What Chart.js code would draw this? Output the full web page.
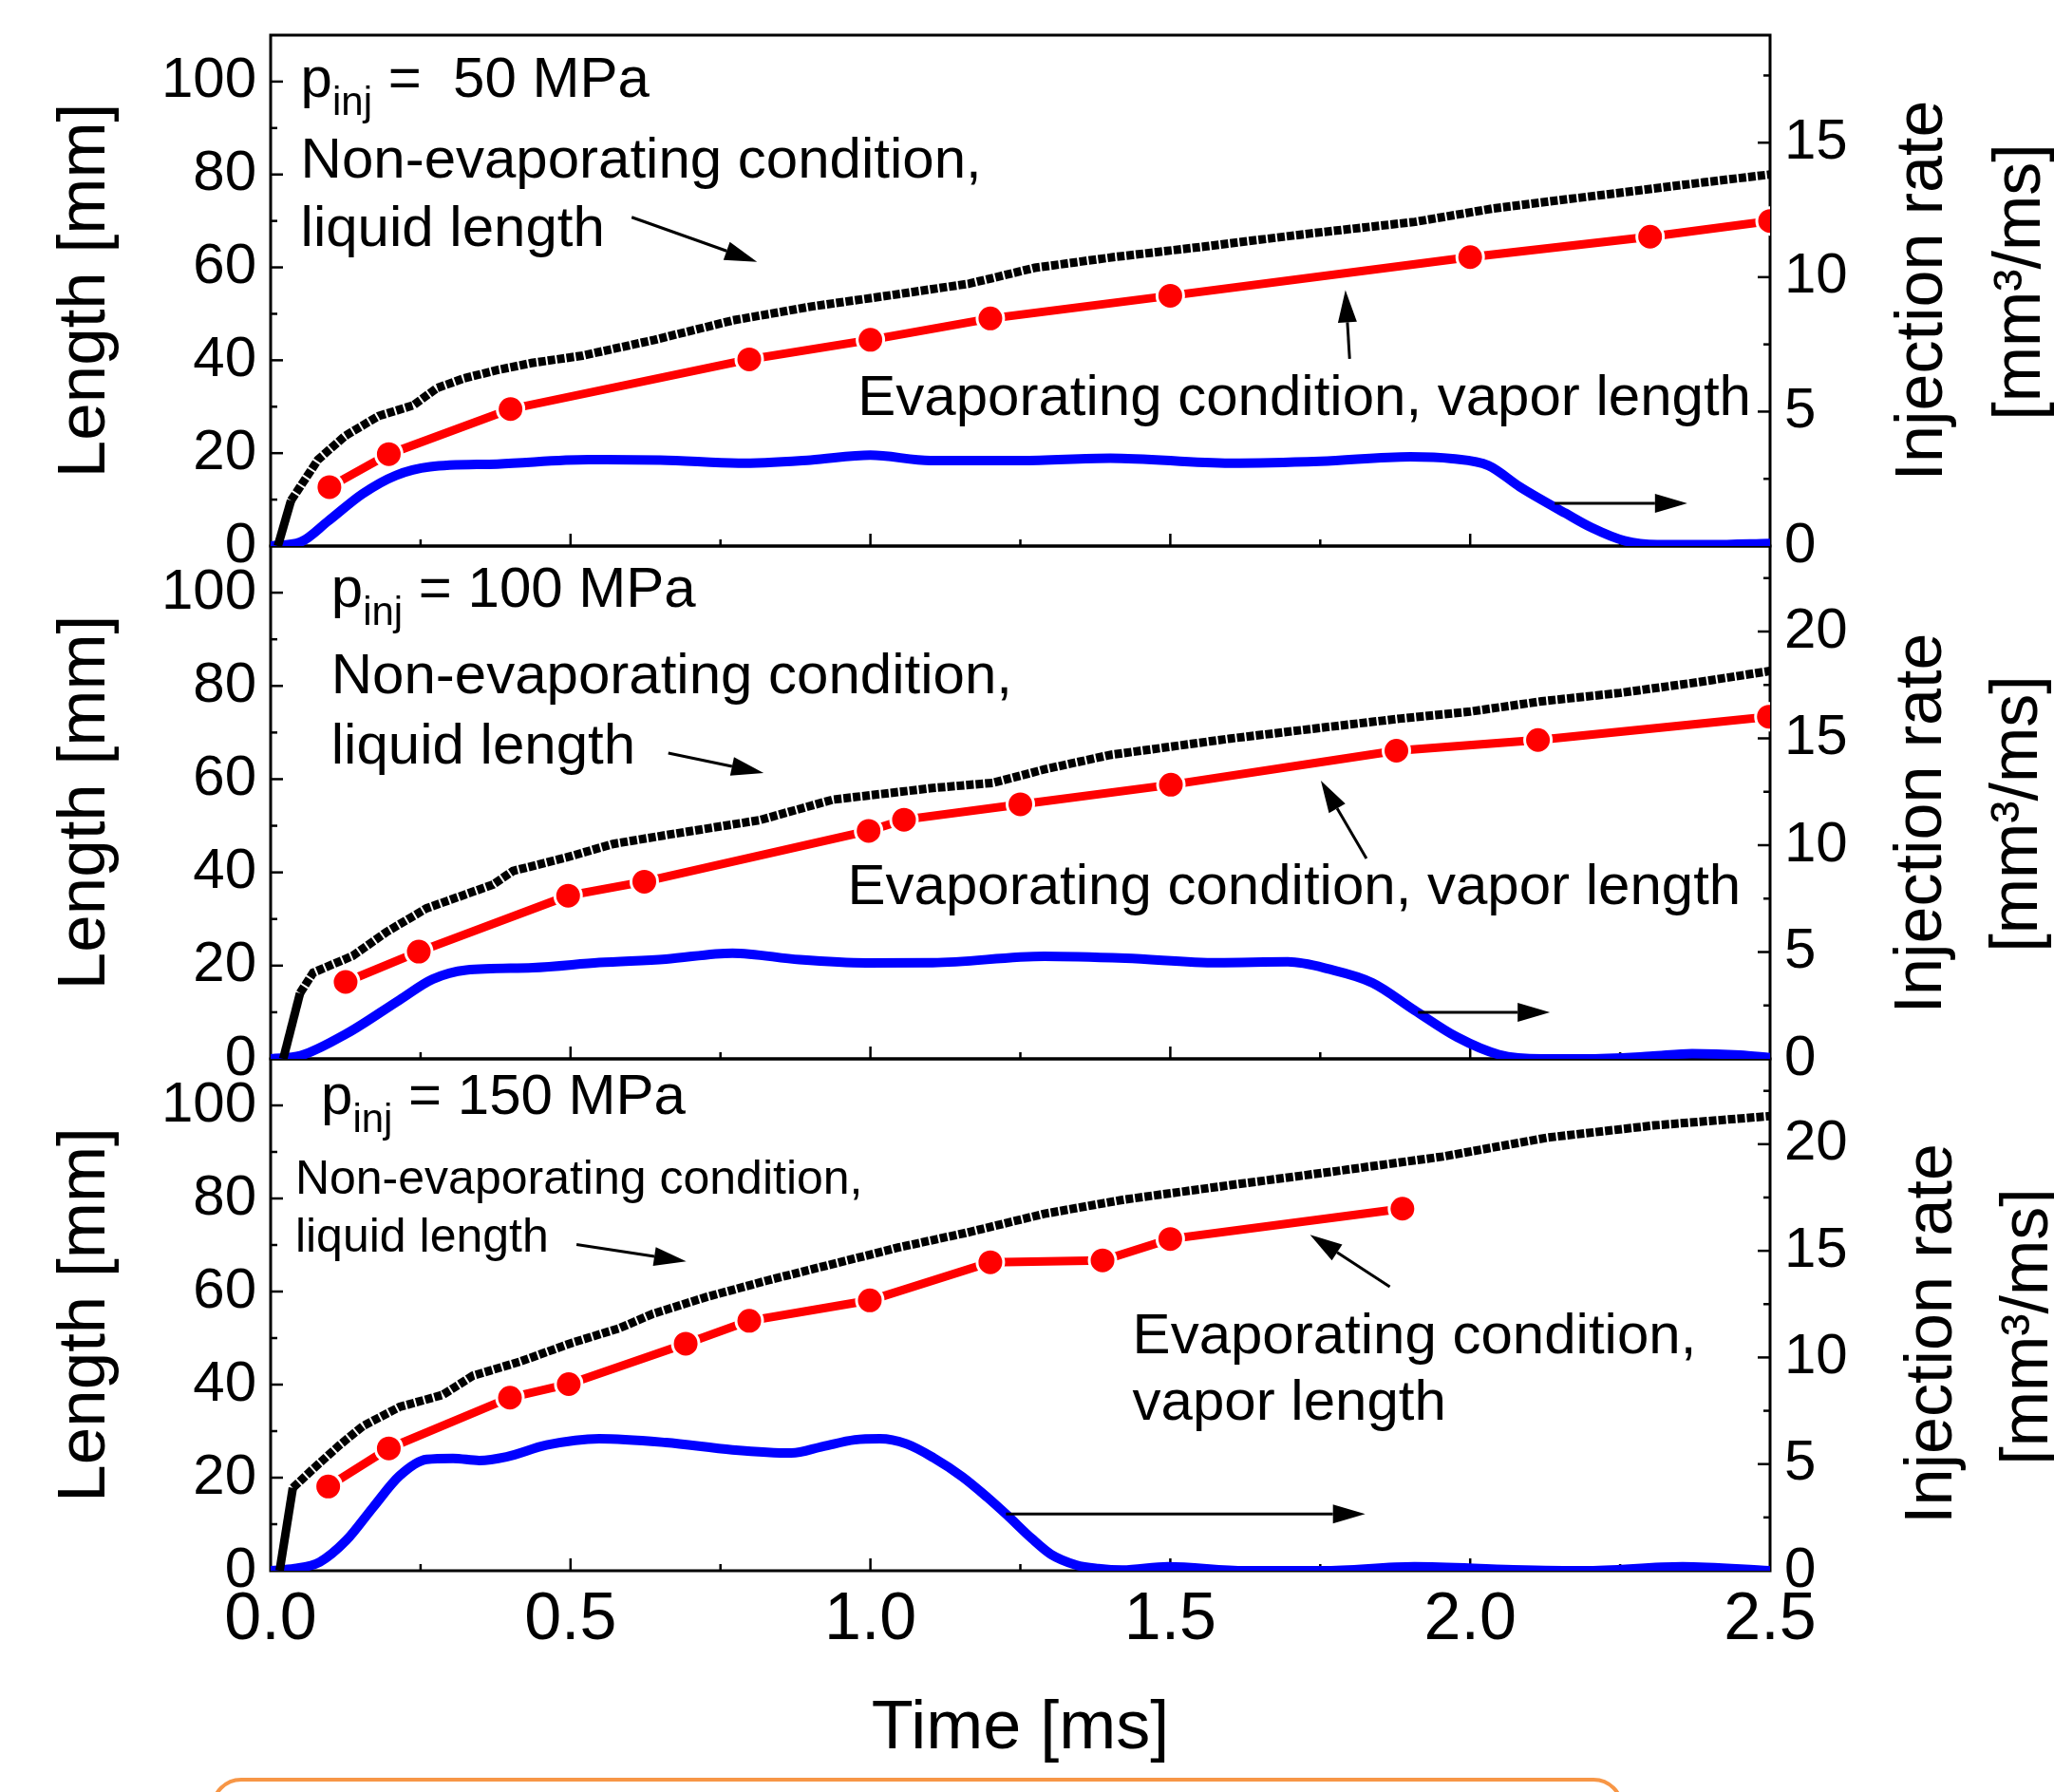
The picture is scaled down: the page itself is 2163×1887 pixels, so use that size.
<!DOCTYPE html>
<html>
<head>
<meta charset="utf-8">
<script src="https://cdn.jsdelivr.net/npm/chart.js@4.4.1/dist/chart.umd.min.js"></script>
<style>
  html, body { margin:0; padding:0; background:#fff; width:2163px; height:1887px; overflow:hidden; position:relative; }
  canvas { position:absolute; left:0; top:0; }
  #box { position:absolute; left:222px; top:1872px; width:1488px; height:140px; border:4px solid #f79646; border-radius:32px; box-sizing:border-box; }
</style>
</head>
<body>
<div id="box"></div>
<canvas id="p150" width="2163" height="1887"></canvas>
<canvas id="p100" width="2163" height="1887"></canvas>
<canvas id="p50" width="2163" height="1887"></canvas>
<script>
// ---------------- DATA ----------------
const timeTickLabels = ['0.0', '0.5', '1.0', '1.5', '2.0', '2.5'];

// p_inj = 50 MPa
const liq50Time = [0.012, 0.034, 0.079, 0.124, 0.18, 0.238, 0.277, 0.322, 0.378, 0.435, 0.52, 0.64, 0.771, 0.903, 1.034, 1.165, 1.274, 1.405, 1.558, 1.733, 1.908, 2.039, 2.214, 2.389, 2.5];
const liq50Len  = [0, 9.8, 18.6, 23.7, 28, 30.3, 34, 36.1, 37.9, 39.4, 41, 44.4, 48.6, 51.6, 54, 56.5, 59.9, 62.2, 64.5, 67.3, 69.8, 72.7, 75.5, 78.3, 80];
const vap50Time = [0.098, 0.197, 0.400, 0.798, 1.0, 1.2, 1.5, 2.0, 2.3, 2.5];
const vap50Len  = [12.7, 19.8, 29.5, 40.2, 44.4, 49.0, 53.9, 62.2, 66.6, 70.0];
const rate50Time = [0, 0.05, 0.096, 0.153, 0.209, 0.266, 0.378, 0.53, 0.65, 0.78, 0.9, 1.0, 1.1, 1.25, 1.4, 1.6, 1.75, 1.9, 1.97, 2.03, 2.083, 2.159, 2.203, 2.257, 2.312, 2.4, 2.5];
const rate50Rate = [0, 0.15, 0.93, 1.94, 2.63, 2.95, 3.05, 3.21, 3.2, 3.08, 3.2, 3.38, 3.18, 3.18, 3.27, 3.08, 3.15, 3.32, 3.25, 3.0, 2.2, 1.22, 0.68, 0.2, 0.05, 0.05, 0.1];

// p_inj = 100 MPa
const liq100Time = [0.021, 0.049, 0.071, 0.137, 0.193, 0.26, 0.371, 0.404, 0.493, 0.571, 0.659, 0.815, 0.937, 1.104, 1.204, 1.29, 1.4, 1.6, 1.75, 1.884, 2.0, 2.119, 2.25, 2.38, 2.5];
const liq100Len  = [0, 14.1, 18.5, 22.1, 27.2, 32.3, 37.4, 40.3, 43.2, 46.1, 48.0, 51.2, 55.6, 58.1, 59.2, 62.1, 65.2, 68.7, 71.0, 73.0, 74.5, 76.7, 78.5, 80.8, 83.2];
const vap100Time = [0.125, 0.247, 0.496, 0.623, 0.997, 1.056, 1.25, 1.501, 1.877, 2.113, 2.498];
const vap100Len  = [16.5, 23.0, 35.0, 38.0, 48.9, 51.3, 54.6, 58.8, 66.1, 68.4, 73.4];
const rate100Time = [0, 0.05, 0.126, 0.215, 0.27, 0.326, 0.437, 0.548, 0.659, 0.77, 0.882, 0.993, 1.104, 1.29, 1.425, 1.579, 1.696, 1.766, 1.837, 1.907, 1.978, 2.048, 2.12, 2.19, 2.3, 2.37, 2.45, 2.5];
const rate100Rate = [0, 0.15, 1.17, 2.76, 3.73, 4.16, 4.27, 4.51, 4.67, 4.95, 4.64, 4.49, 4.5, 4.8, 4.71, 4.5, 4.54, 4.19, 3.56, 2.28, 1.02, 0.2, 0.0, 0.0, 0.12, 0.25, 0.18, 0.05];

// p_inj = 150 MPa
const liq150Time = [0.015, 0.037, 0.071, 0.115, 0.154, 0.215, 0.287, 0.337, 0.415, 0.503, 0.581, 0.637, 0.726, 0.826, 0.937, 1.048, 1.159, 1.29, 1.425, 1.602, 1.778, 1.954, 2.13, 2.307, 2.5];
const liq150Len  = [0, 17.8, 21.9, 27.0, 31.1, 35.2, 37.8, 41.9, 44.9, 49.0, 52.1, 55.2, 58.8, 62.3, 65.9, 69.5, 72.6, 76.7, 79.8, 82.9, 85.9, 89.0, 93.1, 95.7, 97.7];
const vap150Time = [0.096, 0.197, 0.399, 0.497, 0.692, 0.798, 0.999, 1.2, 1.387, 1.5, 1.887];
const vap150Len  = [18.1, 26.3, 37.2, 40.1, 48.8, 53.7, 58.1, 66.3, 66.7, 71.3, 77.8];
const rate150Time = [0, 0.04, 0.082, 0.126, 0.171, 0.215, 0.26, 0.304, 0.348, 0.393, 0.46, 0.548, 0.659, 0.77, 0.868, 0.921, 0.974, 1.016, 1.06, 1.105, 1.153, 1.195, 1.227, 1.269, 1.301, 1.343, 1.38, 1.42, 1.496, 1.625, 1.754, 1.907, 2.072, 2.19, 2.354, 2.5];
const rate150Rate = [0, 0.1, 0.41, 1.42, 2.98, 4.45, 5.22, 5.27, 5.17, 5.34, 5.89, 6.19, 6.01, 5.67, 5.52, 5.83, 6.14, 6.19, 5.95, 5.3, 4.41, 3.44, 2.63, 1.51, 0.77, 0.27, 0.1, 0.03, 0.19, 0.0, 0.0, 0.19, 0.05, 0.0, 0.19, 0.0];

// ---------------- STYLE / HELPERS ----------------
const FAMILY = "'Liberation Sans', Arial, Helvetica, sans-serif";
Chart.defaults.font.family = FAMILY;
Chart.defaults.color = '#000';

function pts(xs, ys) { return xs.map((x, i) => ({ x: x, y: ys[i] })); }

function drawArrow(ctx, x1, y1, x2, y2) {
  const ang = Math.atan2(y2 - y1, x2 - x1), L = 34, W = 10;
  const bx = x2 - L * Math.cos(ang), by = y2 - L * Math.sin(ang);
  ctx.lineWidth = 3;
  ctx.beginPath(); ctx.moveTo(x1, y1); ctx.lineTo(bx, by); ctx.stroke();
  ctx.beginPath();
  ctx.moveTo(x2, y2);
  ctx.lineTo(bx - W * Math.sin(ang), by + W * Math.cos(ang));
  ctx.lineTo(bx + W * Math.sin(ang), by - W * Math.cos(ang));
  ctx.closePath(); ctx.fill();
}

const frameTicks = {
  id: 'frameTicks',
  beforeDatasetsDraw(chart, args, o) {
    const { ctx, chartArea: a, scales } = chart;
    ctx.save();
    ctx.strokeStyle = '#000';
    ctx.lineWidth = 3;
    ctx.strokeRect(a.left, a.top, a.right - a.left, a.bottom - a.top);
    ctx.lineWidth = 2.5;
    const seg = (x1, y1, x2, y2) => { ctx.beginPath(); ctx.moveTo(x1, y1); ctx.lineTo(x2, y2); ctx.stroke(); };
    const each = (sc, minor, major, fn) => {
      const n = Math.round((sc.max - sc.min) / minor);
      for (let i = 1; i < n; i++) {
        const v = sc.min + i * minor;
        const isMaj = Math.abs(v / major - Math.round(v / major)) < 1e-6;
        fn(sc.getPixelForValue(v), isMaj ? 13 : 7);
      }
    };
    each(scales.x, o.xMinor, o.xMajor, (p, l) => seg(p, a.bottom, p, a.bottom - l));
    each(scales.y, o.yMinor, o.yMajor, (p, l) => seg(a.left, p, a.left + l, p));
    each(scales.y2, o.y2Minor, o.y2Major, (p, l) => seg(a.right, p, a.right - l, p));
    ctx.restore();
  }
};

const annot = {
  id: 'annot',
  afterDatasetsDraw(chart, args, o) {
    const { ctx, chartArea: a, scales } = chart;
    const xs = scales.x, ys = scales.y;
    ctx.save();
    ctx.fillStyle = '#000'; ctx.strokeStyle = '#000';
    ctx.textAlign = 'left'; ctx.textBaseline = 'alphabetic';
    (o.texts || []).forEach(t => {
      let x = xs.getPixelForValue(t.x);
      const y = ys.getPixelForValue(t.y);
      t.parts.forEach(p => {
        ctx.font = p.size + 'px ' + FAMILY;
        ctx.fillText(p.s, x, y + (p.dy || 0));
        x += ctx.measureText(p.s).width;
      });
    });
    (o.arrows || []).forEach(r => {
      drawArrow(ctx, xs.getPixelForValue(r[0]), ys.getPixelForValue(r[1]), xs.getPixelForValue(r[2]), ys.getPixelForValue(r[3]));
    });
    // right axis title (reads bottom-to-top)
    const rt = o.rtitle;
    if (rt) {
      const cy = (a.top + a.bottom) / 2;
      ctx.font = '70px ' + FAMILY;
      ctx.textAlign = 'center';
      rt.lines.forEach((ln, i) => {
        ctx.save();
        ctx.translate(a.right + rt.x[i], cy + rt.dy[i]);
        ctx.rotate(-Math.PI / 2);
        ctx.fillText(ln, 0, 0);
        ctx.restore();
      });
    }
    ctx.restore();
  }
};

function noPad(s) { s.paddingTop = 0; s.paddingBottom = 0; s.paddingLeft = 0; s.paddingRight = 0; }

function makePanel(id, c) {
  return new Chart(document.getElementById(id), {
    type: 'line',
    data: {
      datasets: [
        { label: 'Evaporating condition, vapor length', data: pts(c.vapT, c.vapL), yAxisID: 'y',
          borderColor: '#ff0000', borderWidth: 9, pointRadius: 14, pointHoverRadius: 14,
          pointBackgroundColor: '#ff0000', pointBorderColor: '#ffffff', pointBorderWidth: 3, tension: 0 },
        { label: 'Non-evaporating condition, liquid length', data: pts(c.liqT, c.liqL), yAxisID: 'y',
          borderColor: '#000', borderWidth: 9, pointRadius: 0, tension: 0, borderCapStyle: 'butt',
          segment: { borderDash: s => s.p0DataIndex < 1 ? [] : [8, 2] } },
        { label: 'Injection rate', data: pts(c.rateT, c.rateR), yAxisID: 'y2',
          borderColor: '#0000ff', borderWidth: 10, pointRadius: 0, cubicInterpolationMode: 'monotone' }
      ]
    },
    options: {
      responsive: false, animation: false, events: [],
      layout: { padding: { top: c.top, left: 0, right: 0, bottom: 0 } },
      plugins: {
        legend: { display: false }, tooltip: { enabled: false },
        frameTicks: { xMinor: 0.25, xMajor: 0.5, yMinor: 10, yMajor: 20, y2Minor: 2.5, y2Major: 5 },
        annot: { texts: c.texts, arrows: c.arrows, rtitle: c.rtitle }
      },
      scales: {
        x: { type: 'linear', position: 'bottom', min: 0, max: 2.5,
             grid: { display: false, drawTicks: false }, border: { display: false },
             ticks: { display: c.showX, stepSize: 0.5, autoSkip: false, maxRotation: 0, padding: 11,
                      font: { size: 70 }, callback: v => timeTickLabels[Math.round(v / 0.5)] },
             title: { display: c.showX, text: 'Time [ms]', font: { size: 72 }, padding: { top: 0, bottom: 23 } },
             afterFit: s => { s.height = 1887 - c.bottom; noPad(s); } },
        y: { type: 'linear', position: 'left', min: 0, max: 110,
             grid: { display: false, drawTicks: false }, border: { display: false },
             ticks: { stepSize: 20, includeBounds: false, padding: 15, font: { size: 60 } },
             title: { display: true, text: 'Length [mm]', font: { size: 71 }, padding: { top: 48, bottom: 0 } },
             afterFit: s => { s.width = 285; noPad(s); } },
        y2: { type: 'linear', position: 'right', min: 0, max: c.rmax,
              grid: { display: false, drawTicks: false }, border: { display: false },
              ticks: { stepSize: 5, includeBounds: false, padding: 15, font: { size: 60 } },
              afterFit: s => { s.width = 2163 - 1864; noPad(s); } }
      }
    },
    plugins: [frameTicks, annot]
  });
}

const P = (s, size, dy) => ({ s: s, size: size, dy: dy || 0 });

makePanel('p150', {
  top: 1115, bottom: 1654, rmax: 24, showX: true,
  liqT: liq150Time, liqL: liq150Len, vapT: vap150Time, vapL: vap150Len, rateT: rate150Time, rateR: rate150Rate,
  texts: [
    { x: 0.084, y: 98.2, parts: [P('p', 60), P('inj', 42, 19), P(' = 150 MPa', 60)] },
    { x: 0.041, y: 81.0, parts: [P('Non-evaporating condition,', 50)] },
    { x: 0.041, y: 68.6, parts: [P('liquid length', 50)] },
    { x: 1.437, y: 46.8, parts: [P('Evaporating condition,', 60)] },
    { x: 1.437, y: 32.4, parts: [P('vapor length', 60)] }
  ],
  arrows: [[0.51, 70.1, 0.693, 66.5], [1.866, 61.0, 1.733, 72.2], [1.226, 12.2, 1.825, 12.2]],
  rtitle: { lines: ['Injection rate', '[mm\u00B3/ms]'], x: [191, 292], dy: [20, 12.5] }
});

makePanel('p100', {
  top: 575, bottom: 1115, rmax: 24, showX: false,
  liqT: liq100Time, liqL: liq100Len, vapT: vap100Time, vapL: vap100Len, rateT: rate100Time, rateR: rate100Rate,
  texts: [
    { x: 0.101, y: 97.0, parts: [P('p', 60), P('inj', 42, 19), P(' = 100 MPa', 60)] },
    { x: 0.101, y: 78.4, parts: [P('Non-evaporating condition,', 60)] },
    { x: 0.101, y: 63.4, parts: [P('liquid length', 60)] },
    { x: 0.962, y: 33.2, parts: [P('Evaporating condition, vapor length', 60)] }
  ],
  arrows: [[0.663, 65.6, 0.822, 61.3], [1.827, 43.0, 1.751, 59.7], [1.913, 10.0, 2.133, 10.0]],
  rtitle: { lines: ['Injection rate', '[mm\u00B3/ms]'], x: [180, 281], dy: [22, 12] }
});

makePanel('p50', {
  top: 37, bottom: 575, rmax: 19, showX: false,
  liqT: liq50Time, liqL: liq50Len, vapT: vap50Time, vapL: vap50Len, rateT: rate50Time, rateR: rate50Rate,
  texts: [
    { x: 0.05, y: 96.8, parts: [P('p', 60), P('inj', 42, 19), P(' =  50 MPa', 60)] },
    { x: 0.05, y: 79.3, parts: [P('Non-evaporating condition,', 60)] },
    { x: 0.05, y: 64.6, parts: [P('liquid length', 60)] },
    { x: 0.979, y: 28.2, parts: [P('Evaporating condition, vapor length', 60)] }
  ],
  arrows: [[0.602, 70.8, 0.811, 61.2], [1.799, 40.3, 1.792, 55.1], [2.141, 9.2, 2.362, 9.2]],
  rtitle: { lines: ['Injection rate', '[mm\u00B3/ms]'], x: [181, 284], dy: [0, -9] }
});
</script>
</body>
</html>
